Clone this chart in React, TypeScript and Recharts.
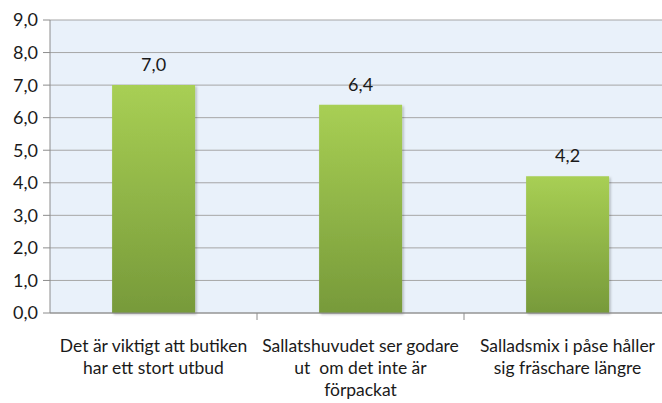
import React from 'react';
import { BarChart, Bar, XAxis, YAxis, CartesianGrid, LabelList } from 'recharts';

const categories = [
  ['Det är viktigt att butiken', 'har ett stort utbud'],
  ['Sallatshuvudet ser godare', 'ut  om det inte är', 'förpackat'],
  ['Salladsmix i påse håller', 'sig fräschare längre'],
];
const values = [7.0, 6.4, 4.2];
const yTicks = [0, 1, 2, 3, 4, 5, 6, 7, 8, 9];

const data = categories.map((lines, i) => ({ name: lines.join(' '), idx: i, value: values[i] }));

const FONT = 'Lato, "Open Sans", sans-serif';
const CHART_W = 680;
const LEFT = 50;
const RIGHT = 9;
const BAND = (CHART_W - LEFT - RIGHT) / categories.length;

const fmt = (v: number) => v.toFixed(1).replace('.', ',');

const CategoryTick = (props: any) => {
  const { x, y, index } = props;
  const lines = categories[index] || [];
  return (
    <g>
      {index < categories.length - 1 && (
        <line x1={x + BAND / 2} x2={x + BAND / 2} y1={y - 8} y2={y - 1} stroke="#8c8c8c" />
      )}
      <text x={x} y={y + 31} textAnchor="middle" fontFamily={FONT} fontSize={17.5} fill="#1a1a1a">
        {lines.map((l, i) => (
          <tspan key={i} x={x} dy={i === 0 ? 0 : 22} style={{ whiteSpace: 'pre' }}>
            {l}
          </tspan>
        ))}
      </text>
    </g>
  );
};

export default function App() {
  return (
    <div style={{ position: 'absolute', left: 0, top: 0, width: 662, height: 403, overflow: 'hidden', background: '#fff' }}>
      <BarChart
        width={CHART_W}
        height={403}
        data={data}
        margin={{ top: 20, right: RIGHT, bottom: 10, left: 6 }}
        barCategoryGap="30%"
      >
        <defs>
          <linearGradient id="barGrad" x1="0" y1="0" x2="0" y2="1">
            <stop offset="0%" stopColor="#a8cf54" />
            <stop offset="100%" stopColor="#779a3a" />
          </linearGradient>
          <filter id="shadow" x="-10%" y="-10%" width="130%" height="130%">
            <feDropShadow dx="1.5" dy="1.5" stdDeviation="1.2" floodColor="#000" floodOpacity="0.25" />
          </filter>
        </defs>
        <CartesianGrid vertical={false} stroke="#a6a6a6" fill="#e9f1fa" />
        <XAxis
          dataKey="idx"
          tick={<CategoryTick />}
          tickLine={false}
          axisLine={{ stroke: '#8c8c8c' }}
          height={80}
          interval={0}
        />
        <YAxis
          domain={[0, 9]}
          ticks={yTicks}
          tickFormatter={fmt}
          width={44}
          axisLine={{ stroke: '#8c8c8c' }}
          tickLine={{ stroke: '#8c8c8c' }}
          tickSize={7}
          tickMargin={5}
          tick={{ fontFamily: FONT, fontSize: 18, fill: '#1a1a1a' }}
          interval={0}
        />
        <Bar dataKey="value" fill="url(#barGrad)" isAnimationActive={false} style={{ filter: 'url(#shadow)' }}>
          <LabelList
            dataKey="value"
            position="top"
            offset={14}
            formatter={(v: any) => fmt(Number(v))}
            style={{ fontFamily: FONT, fontSize: 18, fill: '#1a1a1a' }}
          />
        </Bar>
      </BarChart>
    </div>
  );
}
